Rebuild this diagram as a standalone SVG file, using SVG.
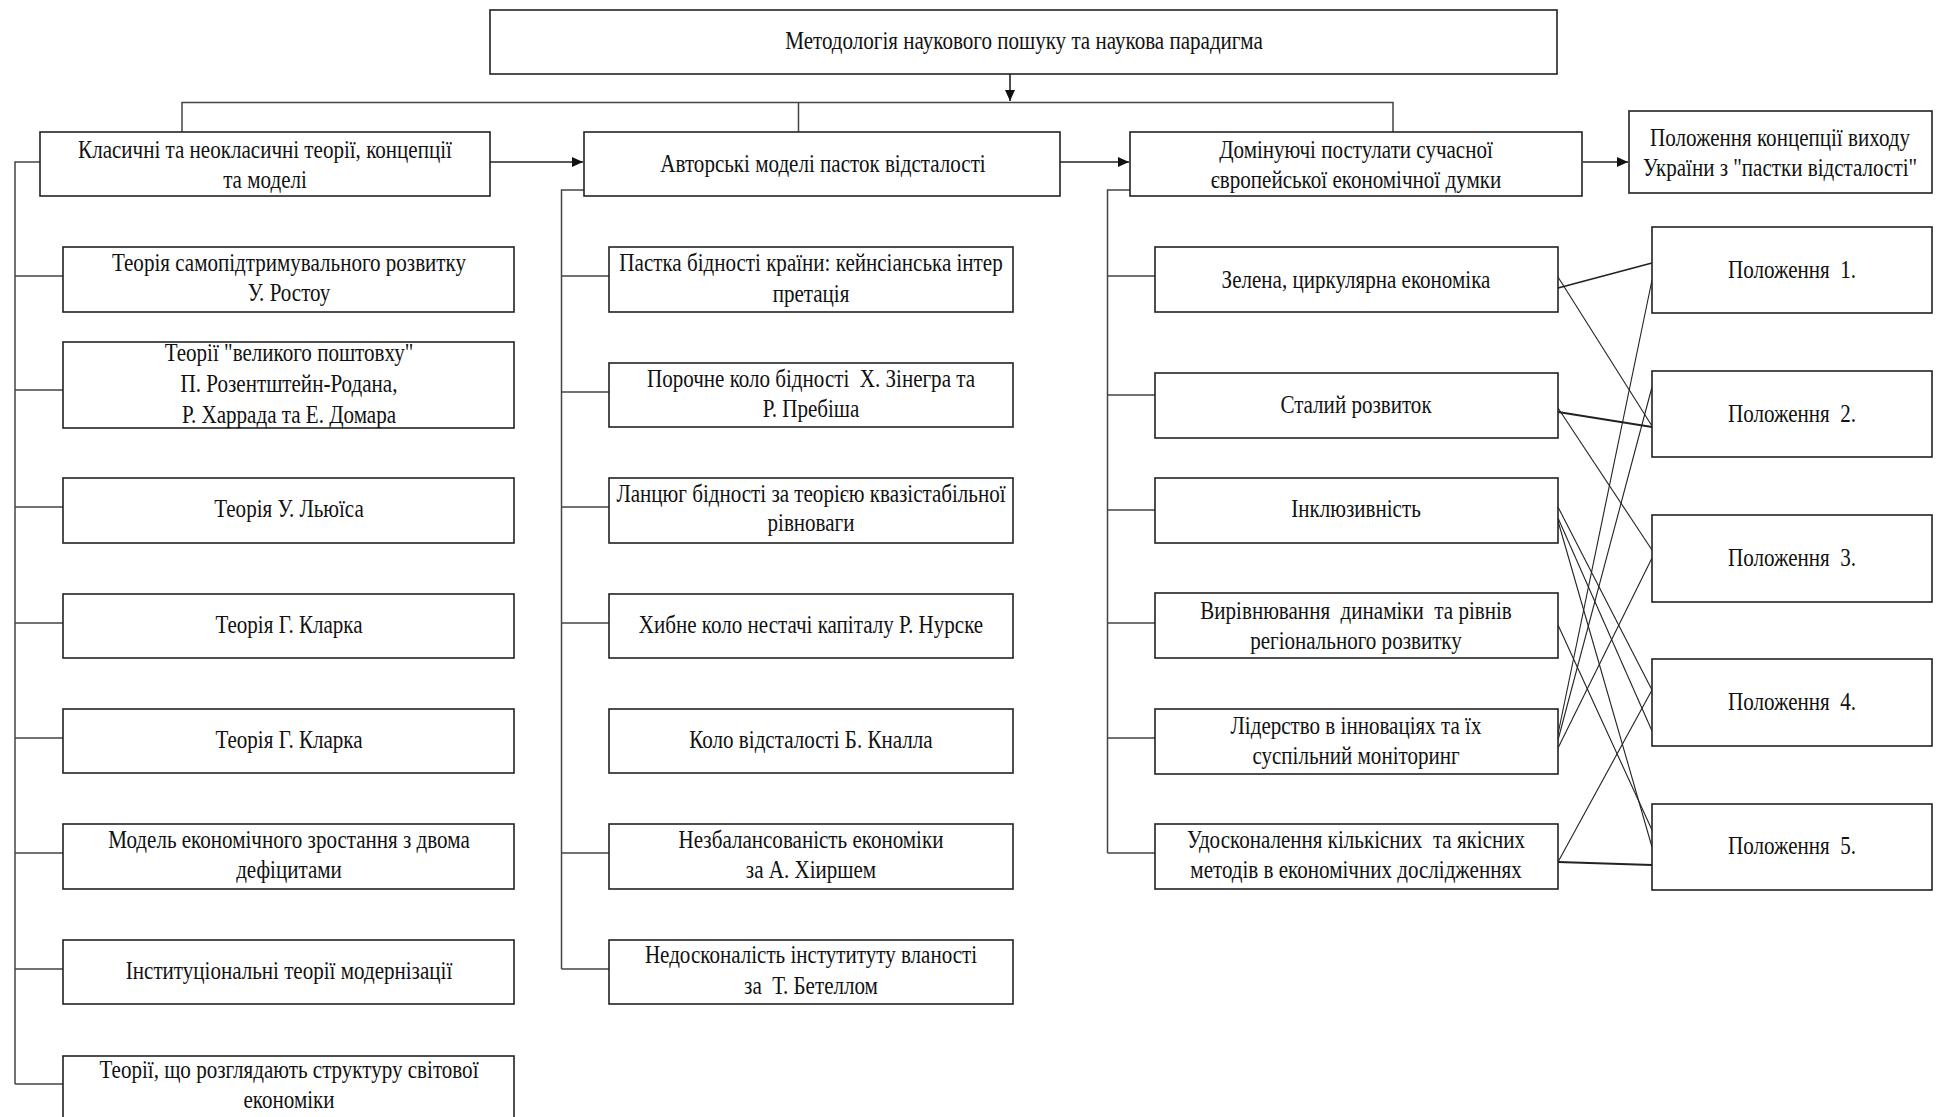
<svg xmlns="http://www.w3.org/2000/svg" width="1937" height="1117" viewBox="0 0 1937 1117">
<style>
.box{fill:#fff;stroke:#222;stroke-width:1.6}
.t{font-family:"Liberation Serif","Times New Roman",serif;font-size:26px;fill:#111;text-anchor:middle;white-space:pre}
.conn{fill:none;stroke:#444;stroke-width:1.5}
.arr{fill:none;stroke:#222;stroke-width:1.6}
.x{fill:none;stroke:#222;stroke-width:1.1}
.xb{fill:none;stroke:#222;stroke-width:1.8}
</style>
<defs>
<marker id="ah" markerUnits="userSpaceOnUse" markerWidth="12" markerHeight="10" refX="11" refY="5" orient="auto">
<path d="M0,0 L11,5 L0,10 z" fill="#111"/>
</marker>
</defs>

<g id="connectors">
<path class="arr" d="M1010,74 V101" marker-end="url(#ah)"/>
<path class="conn" d="M182,132 V102.5 H1393 V132 M798.5,102.5 V132"/>
<path class="arr" d="M490,162 H583" marker-end="url(#ah)"/>
<path class="arr" d="M1060,162 H1129" marker-end="url(#ah)"/>
<path class="arr" d="M1583,162 H1628" marker-end="url(#ah)"/>
<path class="conn" d="M40,162 H15 V1084 M15,276 H63 M15,390 H63 M15,507 H63 M15,623 H63 M15,738 H63 M15,853 H63 M15,969 H63 M15,1084 H63"/>
<path class="conn" d="M584,190 H561.5 V969 M561.5,276 H609 M561.5,392 H609 M561.5,507 H609 M561.5,623 H609 M561.5,853 H609 M561.5,969 H609"/>
<path class="conn" d="M1130,190 H1107.5 V853 M1107.5,276 H1155 M1107.5,395 H1155 M1107.5,510 H1155 M1107.5,623 H1155 M1107.5,738 H1155 M1107.5,853 H1155"/>
<path class="xb" d="M1558,288 L1652,263"/>
<path class="x" d="M1558,277 L1652,426"/>
<path class="xb" d="M1558,412 L1652,427"/>
<path class="x" d="M1558,408 L1652,550"/>
<path class="x" d="M1558,507 L1652,690"/>
<path class="x" d="M1558,518 L1652,731"/>
<path class="x" d="M1558,521 L1652,847"/>
<path class="x" d="M1558,625 L1652,830"/>
<path class="x" d="M1558,734 L1652,280"/>
<path class="x" d="M1558,740 L1652,387"/>
<path class="x" d="M1558,748 L1652,558"/>
<path class="x" d="M1558,862 L1652,690"/>
<path class="xb" d="M1558,862 L1652,865"/>
</g>

<g id="top">
<rect class="box" x="490" y="10" width="1067" height="64"/>
<text class="t" transform="translate(1024 0) scale(0.81 1)" x="0" y="49">Методологія наукового пошуку та наукова парадигма</text>
</g>

<g id="classic">
<rect class="box" x="40" y="132" width="450" height="64"/>
<text class="t" transform="translate(265 0) scale(0.81 1)"><tspan x="0" y="158">Класичні та неокласичні теорії, концепції</tspan><tspan x="0" y="188">та моделі</tspan></text>
</g>
<g id="author">
<rect class="box" x="584" y="132" width="476" height="64"/>
<text class="t" transform="translate(823 0) scale(0.81 1)" x="0" y="172">Авторські моделі пасток відсталості</text>
</g>
<g id="dominant">
<rect class="box" x="1130" y="132" width="452" height="64"/>
<text class="t" transform="translate(1356 0) scale(0.81 1)"><tspan x="0" y="158">Домінуючі постулати сучасної</tspan><tspan x="0" y="188">європейської економічної думки</tspan></text>
</g>
<g id="concept">
<rect class="box" x="1629" y="111" width="303" height="82"/>
<text class="t" transform="translate(1780 0) scale(0.81 1)"><tspan x="0" y="146">Положення концепції виходу</tspan><tspan x="0" y="176">України з "пастки відсталості"</tspan></text>
</g>

<g id="l1"><rect class="box" x="63" y="247" width="451" height="65"/>
<text class="t" transform="translate(289 0) scale(0.81 1)"><tspan x="0" y="271">Теорія самопідтримувального розвитку</tspan><tspan x="0" y="301">У. Ростоу</tspan></text></g>
<g id="l2"><rect class="box" x="63" y="342" width="451" height="86"/>
<text class="t" transform="translate(289 0) scale(0.81 1)"><tspan x="0" y="361">Теорії "великого поштовху"</tspan><tspan x="0" y="392">П. Розентштейн-Родана,</tspan><tspan x="0" y="423">Р. Харрада та Е. Домара</tspan></text></g>
<g id="l3"><rect class="box" x="63" y="478" width="451" height="65"/>
<text class="t" transform="translate(289 0) scale(0.81 1)" x="0" y="517">Теорія У. Льюїса</text></g>
<g id="l4"><rect class="box" x="63" y="594" width="451" height="64"/>
<text class="t" transform="translate(289 0) scale(0.81 1)" x="0" y="633">Теорія Г. Кларка</text></g>
<g id="l5"><rect class="box" x="63" y="709" width="451" height="64"/>
<text class="t" transform="translate(289 0) scale(0.81 1)" x="0" y="748">Теорія Г. Кларка</text></g>
<g id="l6"><rect class="box" x="63" y="824" width="451" height="65"/>
<text class="t" transform="translate(289 0) scale(0.81 1)"><tspan x="0" y="848">Модель економічного зростання з двома</tspan><tspan x="0" y="878">дефіцитами</tspan></text></g>
<g id="l7"><rect class="box" x="63" y="940" width="451" height="64"/>
<text class="t" transform="translate(289 0) scale(0.81 1)" x="0" y="979">Інституціональні теорії модернізації</text></g>
<g id="l8"><rect class="box" x="63" y="1056" width="451" height="70"/>
<text class="t" transform="translate(289 0) scale(0.81 1)"><tspan x="0" y="1078">Теорії, що розглядають структуру світової</tspan><tspan x="0" y="1108">економіки</tspan></text></g>

<g id="m1"><rect class="box" x="609" y="247" width="404" height="65"/>
<text class="t" transform="translate(811 0) scale(0.81 1)"><tspan x="0" y="271">Пастка бідності країни: кейнсіанська інтер</tspan><tspan x="0" y="302">претація</tspan></text></g>
<g id="m2"><rect class="box" x="609" y="363" width="404" height="64"/>
<text class="t" transform="translate(811 0) scale(0.81 1)"><tspan x="0" y="387">Порочне коло бідності  Х. Зінегра та</tspan><tspan x="0" y="417">Р. Пребіша</tspan></text></g>
<g id="m3"><rect class="box" x="609" y="478" width="404" height="65"/>
<text class="t" transform="translate(811 0) scale(0.81 1)"><tspan x="0" y="502">Ланцюг бідності за теорією квазістабільної</tspan><tspan x="0" y="531">рівноваги</tspan></text></g>
<g id="m4"><rect class="box" x="609" y="594" width="404" height="64"/>
<text class="t" transform="translate(811 0) scale(0.81 1)" x="0" y="633">Хибне коло нестачі капіталу Р. Нурске</text></g>
<g id="m5"><rect class="box" x="609" y="709" width="404" height="64"/>
<text class="t" transform="translate(811 0) scale(0.81 1)" x="0" y="748">Коло відсталості Б. Кналла</text></g>
<g id="m6"><rect class="box" x="609" y="824" width="404" height="65"/>
<text class="t" transform="translate(811 0) scale(0.81 1)"><tspan x="0" y="848">Незбалансованість економіки</tspan><tspan x="0" y="878">за А. Хіиршем</tspan></text></g>
<g id="m7"><rect class="box" x="609" y="940" width="404" height="64"/>
<text class="t" transform="translate(811 0) scale(0.81 1)"><tspan x="0" y="963">Недосконалість інстутитуту вланості</tspan><tspan x="0" y="994">за  Т. Бетеллом</tspan></text></g>

<g id="r1"><rect class="box" x="1155" y="247" width="403" height="65"/>
<text class="t" transform="translate(1356 0) scale(0.81 1)" x="0" y="288">Зелена, циркулярна економіка</text></g>
<g id="r2"><rect class="box" x="1155" y="373" width="403" height="65"/>
<text class="t" transform="translate(1356 0) scale(0.81 1)" x="0" y="413">Сталий розвиток</text></g>
<g id="r3"><rect class="box" x="1155" y="478" width="403" height="65"/>
<text class="t" transform="translate(1356 0) scale(0.81 1)" x="0" y="517">Інклюзивність</text></g>
<g id="r4"><rect class="box" x="1155" y="593" width="403" height="65"/>
<text class="t" transform="translate(1356 0) scale(0.81 1)"><tspan x="0" y="619">Вирівнювання  динаміки  та рівнів</tspan><tspan x="0" y="649">регіонального розвитку</tspan></text></g>
<g id="r5"><rect class="box" x="1155" y="709" width="403" height="65"/>
<text class="t" transform="translate(1356 0) scale(0.81 1)"><tspan x="0" y="734">Лідерство в інноваціях та їх</tspan><tspan x="0" y="764">суспільний моніторинг</tspan></text></g>
<g id="r6"><rect class="box" x="1155" y="824" width="403" height="65"/>
<text class="t" transform="translate(1356 0) scale(0.81 1)"><tspan x="0" y="848">Удосконалення кількісних  та якісних</tspan><tspan x="0" y="878">методів в економічних дослідженнях</tspan></text></g>

<g id="p1"><rect class="box" x="1652" y="227" width="280" height="86"/>
<text class="t" transform="translate(1792 0) scale(0.81 1)" x="0" y="278">Положення  1.</text></g>
<g id="p2"><rect class="box" x="1652" y="371" width="280" height="86"/>
<text class="t" transform="translate(1792 0) scale(0.81 1)" x="0" y="422">Положення  2.</text></g>
<g id="p3"><rect class="box" x="1652" y="515" width="280" height="87"/>
<text class="t" transform="translate(1792 0) scale(0.81 1)" x="0" y="566">Положення  3.</text></g>
<g id="p4"><rect class="box" x="1652" y="659" width="280" height="87"/>
<text class="t" transform="translate(1792 0) scale(0.81 1)" x="0" y="710">Положення  4.</text></g>
<g id="p5"><rect class="box" x="1652" y="804" width="280" height="86"/>
<text class="t" transform="translate(1792 0) scale(0.81 1)" x="0" y="854">Положення  5.</text></g>
</svg>
